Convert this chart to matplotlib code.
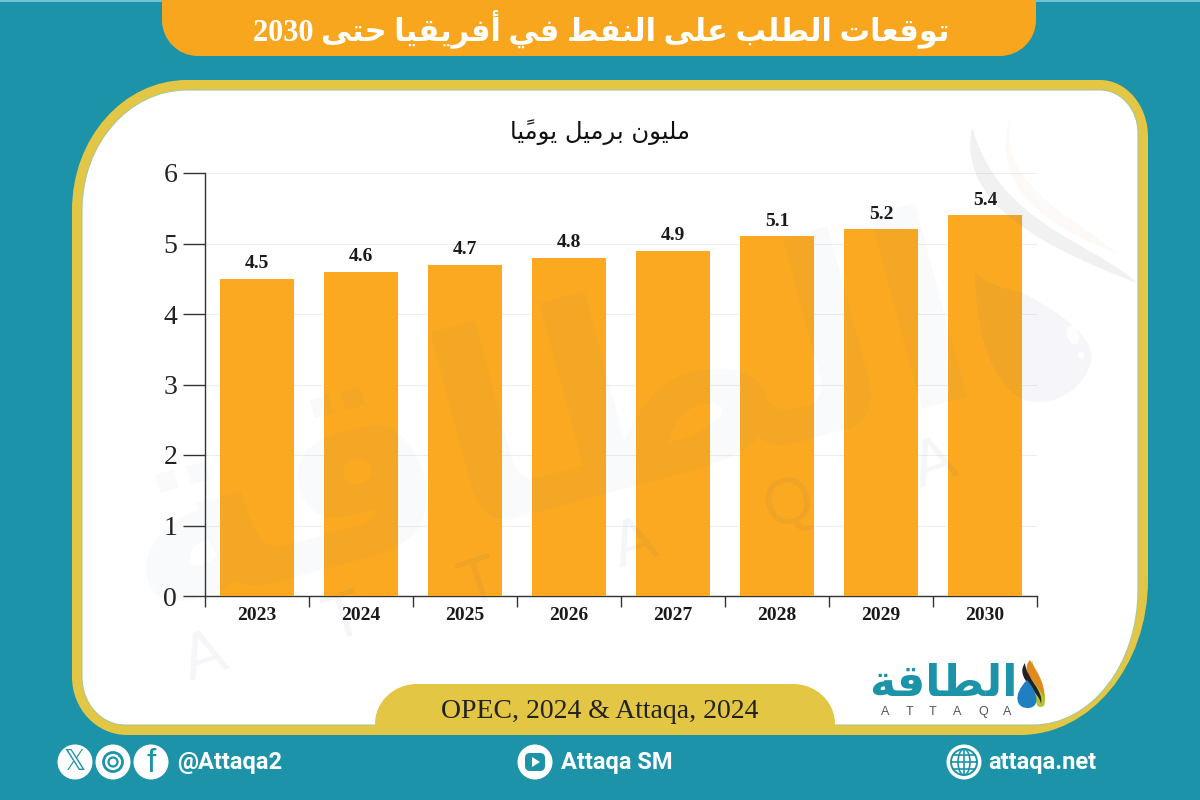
import matplotlib
matplotlib.use("Agg")
import matplotlib.pyplot as plt
from matplotlib.path import Path
from matplotlib.patches import PathPatch, Circle, Polygon, FancyBboxPatch, Rectangle, Ellipse

# ---------- data ----------
years = ["2023", "2024", "2025", "2026", "2027", "2028", "2029", "2030"]
demand = [4.5, 4.6, 4.7, 4.8, 4.9, 5.1, 5.2, 5.4]
y_ticks = [0, 1, 2, 3, 4, 5, 6]
title_text = "توقعات الطلب على النفط في أفريقيا حتى 2030"
unit_text = "مليون برميل يوميًا"
source_text = "OPEC, 2024 & Attaqa, 2024"
logo_text = "الطاقة"

TEAL = "#1c93a8"
GOLD = "#e3c643"
ORANGE = "#f9a61f"
BAR = "#faa920"
SERIF = ["Liberation Serif", "DejaVu Sans"]
ARABIC = ["DejaVu Sans"]

# ---------- minimal Arabic shaping (matplotlib has no shaper) ----------
ISO = {"ا": 0xFE8D, "أ": 0xFE83, "ب": 0xFE8F, "ة": 0xFE93, "ت": 0xFE95, "ح": 0xFEA1,
       "ر": 0xFEAD, "ط": 0xFEC1, "ع": 0xFEC9, "ف": 0xFED1, "ق": 0xFED5, "ل": 0xFEDD,
       "م": 0xFEE1, "ن": 0xFEE5, "و": 0xFEED, "ى": 0xFEEF, "ي": 0xFEF1}
RIGHT_ONLY = set("اأةروى")
MARK = "\u064b"


def shape_word(word):
    letters = []
    for ch in word:
        if ch == MARK and letters:
            letters[-1][1] += ch
        else:
            letters.append([ch, ""])
    out = []
    for i, (ch, mark) in enumerate(letters):
        if ch not in ISO:
            out.append(ch + mark)
            continue
        prev_joins = i > 0 and letters[i - 1][0] in ISO and letters[i - 1][0] not in RIGHT_ONLY
        next_joins = i + 1 < len(letters) and letters[i + 1][0] in ISO
        if ch in RIGHT_ONLY:
            code = ISO[ch] + (1 if prev_joins else 0)
        elif prev_joins and next_joins:
            code = ISO[ch] + 3
        elif prev_joins:
            code = ISO[ch] + 1
        elif next_joins:
            code = ISO[ch] + 2
        else:
            code = ISO[ch]
        out.append(chr(code) + mark)
    return "".join(reversed(out))


def ar(text):
    words = []
    for w in text.split(" "):
        words.append(w if w.isascii() else shape_word(w))
    return " ".join(reversed(words))


def rrect(x0, y0, x1, y1, tl, tr, br, bl):
    """Rounded rectangle with elliptical corners, each (rx, ry), in y-down pixels."""
    k = 0.5523
    v = [(x0 + tl[0], y0), (x1 - tr[0], y0),
         (x1 - tr[0] * (1 - k), y0), (x1, y0 + tr[1] * (1 - k)), (x1, y0 + tr[1]),
         (x1, y1 - br[1]),
         (x1, y1 - br[1] * (1 - k)), (x1 - br[0] * (1 - k), y1), (x1 - br[0], y1),
         (x0 + bl[0], y1),
         (x0 + bl[0] * (1 - k), y1), (x0, y1 - bl[1] * (1 - k)), (x0, y1 - bl[1]),
         (x0, y0 + tl[1]),
         (x0, y0 + tl[1] * (1 - k)), (x0 + tl[0] * (1 - k), y0), (x0 + tl[0], y0)]
    c = [Path.MOVETO, Path.LINETO, Path.CURVE4, Path.CURVE4, Path.CURVE4, Path.LINETO,
         Path.CURVE4, Path.CURVE4, Path.CURVE4, Path.LINETO, Path.CURVE4, Path.CURVE4,
         Path.CURVE4, Path.LINETO, Path.CURVE4, Path.CURVE4, Path.CURVE4]
    return Path(v, c)


def blob(points):
    """Closed shape built from cubic segments: start + triples of points."""
    codes = [Path.MOVETO] + [Path.CURVE4] * (len(points) - 1)
    return Path(points, codes)


fig = plt.figure(figsize=(12, 8), dpi=100, facecolor=TEAL)

# ---------- background layer ----------
bg = fig.add_axes([0, 0, 1, 1], zorder=0)
bg.set_xlim(0, 1200)
bg.set_ylim(800, 0)
bg.axis("off")
bg.add_patch(Rectangle((0, 0), 1200, 1.5, color="#6fc3d3", lw=0))

bg.add_patch(PathPatch(rrect(162, -40, 1036, 56, (10, 10), (10, 10), (36, 36), (36, 36)),
                       fc=ORANGE, ec="none"))
bg.text(601, 30, ar(title_text), color="white", fontsize=22, fontweight="bold",
        family=SERIF, ha="center", va="center")

bg.add_patch(PathPatch(rrect(72, 80, 1148, 735, (115, 130), (48, 57), (128, 155), (55, 58)),
                       fc=GOLD, ec="none"))
bg.add_patch(PathPatch(rrect(82, 90, 1138, 725, (105, 120), (38, 43), (105, 135), (43, 48)),
                       fc="white", ec="#a9c79a", lw=0.8))
bg.add_patch(PathPatch(rrect(375, 684, 835, 735, (42, 40), (42, 40), (1, 1), (1, 1)),
                       fc=GOLD, ec="none"))
bg.text(600, 712, source_text, color="#222222", fontsize=20, family=SERIF,
        ha="center", va="center")
bg.text(600, 132, ar(unit_text), color="#111111", fontsize=17.5, family=ARABIC,
        ha="center", va="center")

# ---------- logo ----------
bg.text(943, 684, ar(logo_text), color=TEAL, fontsize=32, fontweight="bold",
        family=ARABIC, ha="center", va="center")
for letter, lx in zip("ATTAQA", [885, 910, 933, 957, 983, 1007]):
    bg.text(lx, 712, letter, color="#555555", fontsize=9, family="Liberation Sans",
            ha="center", va="center")
bg.add_patch(PathPatch(blob([(1032, 660), (1030, 680), (1050, 685), (1044, 706),
                             (1030, 712), (1040, 690), (1032, 660)]), fc="#b7c534", ec="none"))
bg.add_patch(PathPatch(blob([(1030, 660), (1018, 672), (1042, 688), (1044, 698),
                             (1046, 684), (1036, 670), (1030, 660)]), fc="#e08a1e", ec="none"))
bg.add_patch(PathPatch(blob([(1025, 663), (1014, 678), (1040, 692), (1041, 704),
                             (1044, 690), (1026, 678), (1025, 663)]), fc="#222222", ec="none"))
bg.add_patch(PathPatch(blob([(1027, 680), (1012, 695), (1016, 709), (1029, 708),
                             (1042, 706), (1036, 690), (1027, 680)]), fc="#1f7fc0", ec="none"))

# ---------- footer ----------
CY = 762
for cx in (75, 113, 151):
    bg.add_patch(Circle((cx, CY), 17.5, fc="white", ec="none"))
bg.text(75, CY, "\U0001D54F", color=TEAL, fontsize=20, family="DejaVu Sans",
        ha="center", va="center")
bg.add_patch(Circle((113, CY), 9.5, fc="none", ec=TEAL, lw=2))
bg.add_patch(Circle((113, CY), 4.5, fc="none", ec=TEAL, lw=1.6))
bg.add_patch(Circle((119.5, CY - 6), 1.3, fc=TEAL, ec="none"))
bg.text(151, CY + 1, "f", color=TEAL, fontsize=24, family="Liberation Sans",
        ha="center", va="center")
FOOT = dict(color="white", fontsize=17, fontweight="bold", family="Roboto", ha="left", va="center")
bg.text(177, 763, "@Attaqa2", **FOOT)

bg.add_patch(Circle((535, CY), 17.5, fc="white", ec="none"))
bg.add_patch(FancyBboxPatch((525, 753), 20, 18, boxstyle="round,pad=0,rounding_size=5",
                            fc=TEAL, ec="none"))
bg.add_patch(Polygon([(532, 757), (532, 767), (540, 762)], fc="white", ec="none"))
bg.text(561, 763, "Attaqa SM", **FOOT)

bg.add_patch(Circle((964, CY), 17.5, fc="white", ec="none"))
bg.add_patch(Circle((964, CY), 13, fc="none", ec=TEAL, lw=1.4))
for gy, half in [(755, 11), (762, 13), (769, 11)]:
    bg.plot([964 - half, 964 + half], [gy, gy], color=TEAL, lw=1.2)
bg.add_patch(Ellipse((964, CY), 12, 26, fc="none", ec=TEAL, lw=1.2))
bg.plot([964, 964], [749, 775], color=TEAL, lw=1.2)
bg.text(988, 763, "attaqa.net", **FOOT)

# ---------- chart ----------
ax = fig.add_axes([205 / 1200, 1 - 596 / 800, 832 / 1200, 423 / 800], zorder=1)
ax.patch.set_alpha(0)
positions = list(range(len(years)))
ax.bar(positions, demand, width=0.72, color=BAR, zorder=3)
for p, v in zip(positions, demand):
    ax.annotate(f"{v:.1f}", (p, v), xytext=(0, 4.5), textcoords="offset points",
                ha="center", va="bottom", fontsize=14, fontweight="bold",
                family="Liberation Serif", color="#1a1a1a", zorder=4)
ax.set_xlim(-0.5, len(years) - 0.5)
ax.set_ylim(0, 6)
ax.set_yticks(y_ticks)
ax.set_yticklabels([str(t) for t in y_ticks], fontsize=20, family="Liberation Serif", color="#222222")
ax.set_xticks([p - 0.5 for p in positions] + [len(years) - 0.5])
ax.set_xticklabels([])
ax.set_xticks(positions, minor=True)
ax.set_xticklabels(years, minor=True, fontsize=14, fontweight="bold",
                   family="Liberation Serif", color="#1a1a1a")
ax.tick_params(axis="x", which="major", length=8, width=1, color="#333333")
ax.tick_params(axis="x", which="minor", length=0, pad=8)
ax.tick_params(axis="y", length=16, width=1, color="#333333", pad=4)
ax.grid(axis="y", color="#eeeeee", lw=0.8, zorder=0)
ax.set_axisbelow(True)
for s in ("top", "right"):
    ax.spines[s].set_visible(False)
for s in ("left", "bottom"):
    ax.spines[s].set_color("#333333")
    ax.spines[s].set_linewidth(1)

# ---------- watermark ----------
wm = fig.add_axes([0, 0, 1, 1], zorder=2)
wm.set_xlim(0, 1200)
wm.set_ylim(800, 0)
wm.axis("off")
wm.patch.set_alpha(0)
WM = "#2a6fa0"
wm.text(545, 430, ar(logo_text), color=WM, alpha=0.035, fontsize=190, fontweight="bold",
        family=ARABIC, rotation=15, ha="center", va="center", rotation_mode="anchor")
for letter, lx, ly in [("A", 205, 658), ("T", 345, 620), ("T", 480, 585),
                       ("A", 635, 545), ("Q", 790, 505), ("A", 935, 465)]:
    wm.text(lx, ly, letter, color="#3a4a90", alpha=0.05, fontsize=46,
            family="Liberation Sans", rotation=18, ha="center", va="center")
# grey and peach swooshes, pale droplet
wm.add_patch(PathPatch(blob([(972, 127), (960, 190), (1010, 235), (1137, 283),
                             (1090, 240), (1000, 225), (972, 127)]),
                       fc="#777788", alpha=0.10, ec="none"))
wm.add_patch(PathPatch(blob([(1013, 110), (985, 180), (1040, 225), (1117, 253),
                             (1070, 215), (990, 180), (1013, 110)]),
                       fc="#e8a070", alpha=0.06, ec="none"))
wm.add_patch(PathPatch(blob([(1023, 293), (1075, 320), (1098, 345), (1090, 365),
                             (1080, 395), (1045, 410), (1020, 398),
                             (990, 380), (975, 330), (975, 270),
                             (985, 285), (1005, 288), (1023, 293)]),
                       fc="#5060b0", alpha=0.05, ec="none"))
wm.add_patch(Ellipse((1073, 335), 12, 20, angle=-20, fc="white", alpha=0.8, ec="none"))
wm.add_patch(Circle((1081, 355), 3.5, fc="white", alpha=0.8, ec="none"))

fig.savefig("out.png", dpi=100, facecolor=TEAL)
